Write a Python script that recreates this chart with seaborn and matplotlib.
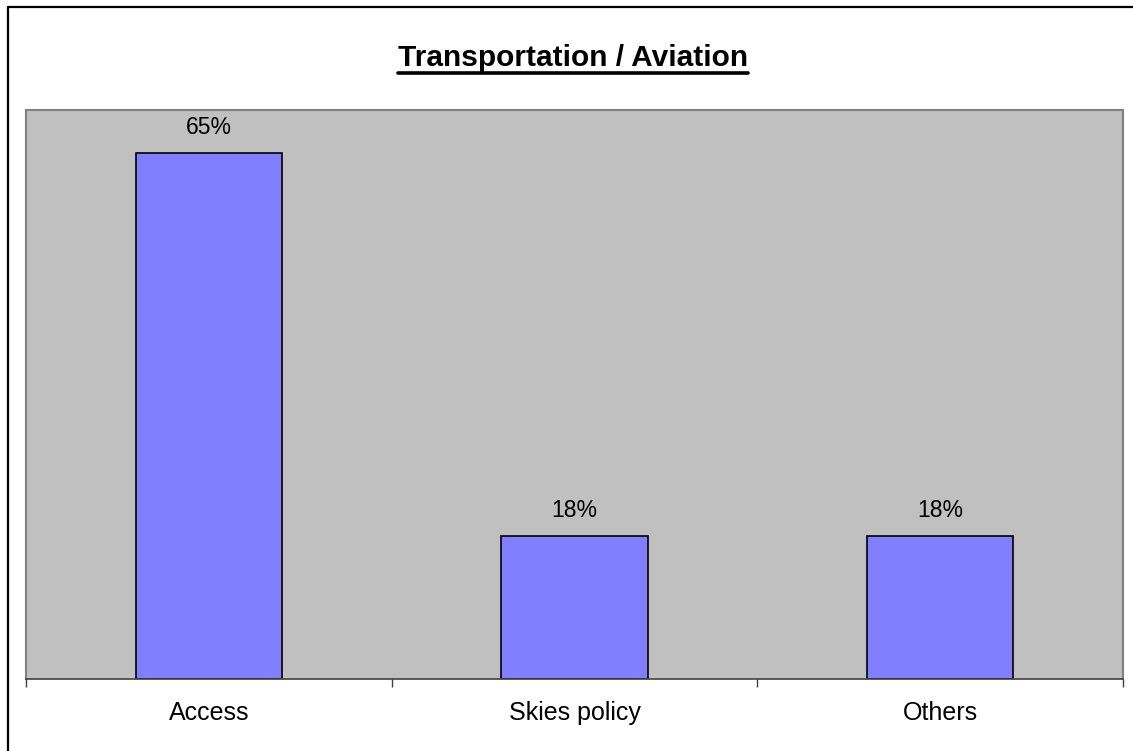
import matplotlib
matplotlib.use('Agg')
import matplotlib.pyplot as plt
from matplotlib.lines import Line2D
import seaborn as sns
import pandas as pd

# data
categories = ['Access', 'Skies policy', 'Others']
shares = [64.7, 17.6, 17.6]
share_labels = ['65%', '18%', '18%']
title = 'Transportation / Aviation'

sns.set_style('white')
plt.rcParams['font.family'] = ['Liberation Sans', 'DejaVu Sans']
plt.rcParams['text.color'] = 'black'
plt.rcParams['xtick.color'] = 'black'

df = pd.DataFrame({'category': categories, 'share': shares})

fig = plt.figure(figsize=(11.33, 7.51), dpi=100)
ax = fig.add_axes([26 / 1133, 1 - 679 / 751, 1097 / 1133, 569 / 751])
ax.set_facecolor('#C0C0C0')

sns.barplot(data=df, x='category', y='share', color='#8080FF',
            edgecolor='black', linewidth=1.2, width=0.4, saturation=1, ax=ax)

ax.set_xlim(-0.5, 2.5)
ax.set_ylim(0, 70)
ax.set_xlabel('')
ax.set_ylabel('')
ax.set_yticks([])

# labels on the bars
for p, lab in zip(ax.patches, share_labels):
    ax.annotate(lab, (p.get_x() + p.get_width() / 2, p.get_height()),
                xytext=(0, 10), textcoords='offset points',
                ha='center', va='bottom', fontsize=16.5, color='black')

# category ticks
ax.set_xticks(range(len(categories)))
ax.set_xticklabels(categories, fontsize=18, color='black')
ax.tick_params(axis='x', which='major', length=0, pad=16)
ax.set_xticks([i - 0.5 for i in range(len(categories) + 1)], minor=True)
ax.tick_params(axis='x', which='minor', bottom=True, length=5.5, width=1,
               color='#404040')

for side in ['top', 'left', 'right']:
    ax.spines[side].set_color('#808080')
    ax.spines[side].set_linewidth(1.5)
ax.spines['bottom'].set_color('#404040')
ax.spines['bottom'].set_linewidth(1.2)

# title with underline
t = fig.text(573 / 1133, 1 - 66 / 751, title, ha='center', va='baseline',
             fontsize=21.5, fontweight='bold', color='black')
fig.canvas.draw()
bb = t.get_window_extent().transformed(fig.transFigure.inverted())
fig.add_artist(Line2D([bb.x0, bb.x1], [1 - 73 / 751] * 2,
                      transform=fig.transFigure, color='black', lw=2.6))

# outer frame (top and left)
fig.add_artist(Line2D([7.5 / 1133, 1], [1 - 7 / 751] * 2,
                      transform=fig.transFigure, color='black', lw=1.6))
fig.add_artist(Line2D([7.5 / 1133] * 2, [0, 1 - 7 / 751],
                      transform=fig.transFigure, color='black', lw=1.6))

fig.savefig('out.png', dpi=100)
